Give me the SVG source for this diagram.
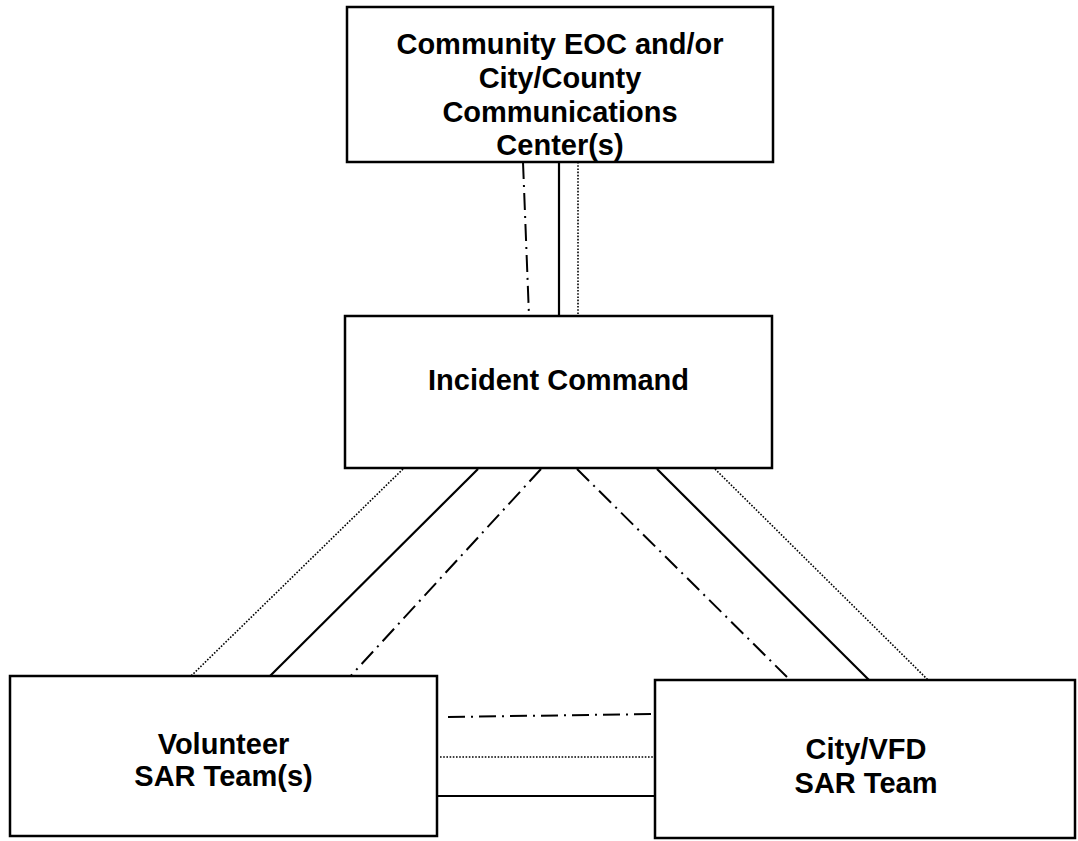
<svg xmlns="http://www.w3.org/2000/svg" width="1078" height="841" viewBox="0 0 1078 841">
<style>
.box{fill:#fff;stroke:#000;stroke-width:2.5}
.lbl{font-family:"Liberation Sans",Arial,sans-serif;font-weight:bold;font-size:29px;fill:#000;text-anchor:middle}
.solid{stroke:#000;stroke-width:2.2;fill:none}
.dashdot{stroke:#000;stroke-width:2;fill:none;stroke-dasharray:17 6 2 6}
.dotted{stroke:#000;stroke-width:1.6;fill:none;stroke-dasharray:1.6 1.6}
</style>
<rect width="1078" height="841" fill="#fff"/>
<g id="connectors">
<line class="dashdot" x1="523" y1="162" x2="529" y2="316"/>
<line class="solid" x1="559" y1="162" x2="559" y2="316"/>
<line class="dotted" x1="578" y1="162" x2="578" y2="316"/>
<line class="dotted" x1="403" y1="469" x2="190" y2="677"/>
<line class="solid" x1="478" y1="469" x2="268" y2="678"/>
<line class="dashdot" x1="541" y1="469" x2="346" y2="681"/>
<line class="dashdot" x1="577" y1="469" x2="787" y2="677"/>
<line class="solid" x1="657" y1="469" x2="869" y2="680"/>
<line class="dotted" x1="715" y1="469" x2="928" y2="680"/>
<line class="dashdot" x1="448" y1="717" x2="655" y2="714"/>
<line class="dotted" x1="440" y1="757" x2="655" y2="757"/>
<line class="solid" x1="438" y1="796" x2="655" y2="796"/>
</g>
<g id="node-eoc">
<rect class="box" x="347" y="7" width="426" height="155"/>
<text class="lbl" x="560" y="54">Community EOC and/or</text>
<text class="lbl" x="560" y="88">City/County</text>
<text class="lbl" x="560" y="122">Communications</text>
<text class="lbl" x="560" y="155">Center(s)</text>
</g>
<g id="node-ic">
<rect class="box" x="345" y="316" width="427" height="152"/>
<text class="lbl" x="558.5" y="390">Incident Command</text>
</g>
<g id="node-volunteer">
<rect class="box" x="10" y="676" width="427" height="160"/>
<text class="lbl" x="223.5" y="754">Volunteer</text>
<text class="lbl" x="223.5" y="786">SAR Team(s)</text>
</g>
<g id="node-city">
<rect class="box" x="655" y="680" width="420" height="158"/>
<text class="lbl" x="866" y="759">City/VFD</text>
<text class="lbl" x="866" y="793">SAR Team</text>
</g>
</svg>
